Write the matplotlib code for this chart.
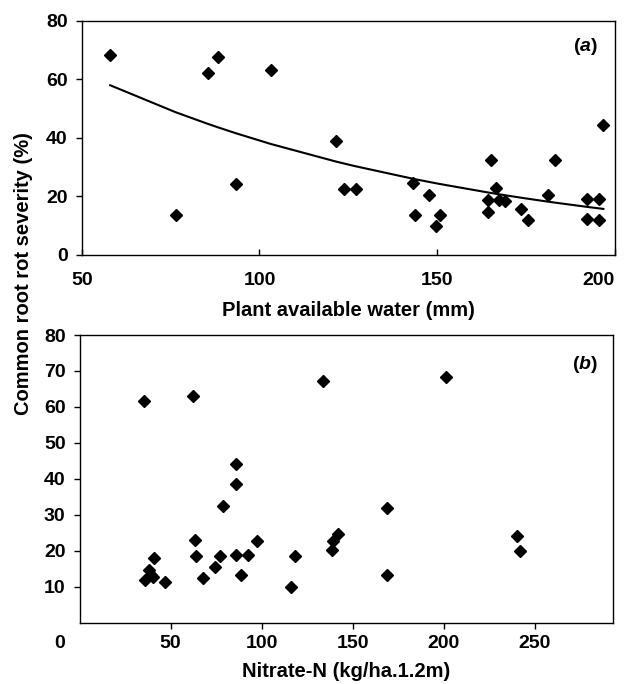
import numpy as np
import matplotlib.pyplot as plt

plt.rcParams['font.family'] = ['Liberation Sans', 'DejaVu Sans']
plt.rcParams['font.weight'] = 'bold'
plt.rcParams['mathtext.fontset'] = 'custom'
plt.rcParams['mathtext.bfit'] = 'Liberation Sans:bold:italic'

# (a) plant available water (mm) vs common root rot severity (%)
paw = [58, 76.4, 85.4, 88.4, 93.4, 103.1, 121.4, 123.9, 127.0, 143.3, 143.7,
       147.8, 150.8, 149.6, 165.1, 164.3, 164.3, 166.5, 167.4, 169.0, 173.5,
       175.6, 181.0, 183.1, 192.2, 195.5, 192.2, 195.5, 196.7]
crr_a = [68.2, 13.6, 62.1, 67.6, 24.1, 63.3, 38.9, 22.7, 22.7, 24.6, 13.6,
         20.4, 13.6, 9.9, 32.6, 18.7, 14.8, 22.9, 18.7, 18.4, 15.6,
         11.9, 20.4, 32.6, 19.0, 19.0, 12.3, 11.9, 44.3]

# exponential trend line y = a*exp(b*x), coefficients
trend_a = 100.0
trend_b = -0.0094

# (b) nitrate-N (kg/ha.1.2m) vs common root rot severity (%)
nitrate = [35.3, 62.3, 85.9, 85.9, 78.8, 63.2, 64.1, 41.1, 38.4, 39.5, 40.5,
           36.2, 47.2, 67.8, 74.2, 77.3, 85.9, 92.5, 88.6, 97.4, 118.4, 116.2,
           133.9, 201.2, 168.7, 142.2, 139.1, 138.5, 168.7, 240.0, 241.8]
crr_b = [61.7, 63.1, 44.1, 38.5, 32.5, 23.0, 18.5, 18.0, 14.7, 13.3, 12.8,
         11.9, 11.4, 12.4, 15.4, 18.5, 18.9, 18.9, 13.3, 22.6, 18.5, 9.8,
         67.2, 68.3, 32.0, 24.5, 22.6, 20.2, 13.3, 24.0, 20.0]

xs = np.sort(paw)
trend = trend_a * np.exp(trend_b * xs)

fig = plt.figure(figsize=(6.27, 6.84), dpi=100)
ax1 = fig.add_axes([0.1303, 0.6272, 0.8507, 0.3425])
ax2 = fig.add_axes([0.1268, 0.0899, 0.8509, 0.4203])

fs = 14
lfs = 14.5
for ax in (ax1, ax2):
    for s in ax.spines.values():
        s.set_linewidth(1.0)
    ax.tick_params(labelsize=fs, width=1.0, length=4)

ax1.plot(paw, crr_a, linestyle='none', marker='D', markersize=6.5, color='black')
ax1.plot(xs, trend, color='black', linewidth=1.5)
ax1.set_xlim(50, 200)
ax1.set_ylim(0, 80)
ax1.set_xticks([50, 100, 150, 200])
ax1.set_yticks([0, 20, 40, 60, 80])
ax1.tick_params(axis='x', direction='in', pad=12)
ax1.tick_params(axis='y', direction='out', pad=6)
ax1.set_xlabel('Plant available water (mm)', fontsize=lfs, fontweight='bold', labelpad=9)
ax1.get_xticklabels()[-1].set_ha('right')
ax1.text(0.968, 0.89, r'($\mathbfit{a}$)', transform=ax1.transAxes,
         ha='right', va='center', fontsize=fs, fontweight='bold')

ax2.plot(nitrate, crr_b, linestyle='none', marker='D', markersize=6.5, color='black')
ax2.set_xlim(0, 293)
ax2.set_ylim(0, 80)
ax2.set_xticks([50, 100, 150, 200, 250])
ax2.set_yticks([10, 20, 30, 40, 50, 60, 70, 80])
ax2.tick_params(axis='x', direction='out', pad=5)
ax2.tick_params(axis='y', direction='out', pad=6)
ax2.set_xlabel('Nitrate-N (kg/ha.1.2m)', fontsize=lfs, fontweight='bold', labelpad=7)
ax2.text(0.972, 0.896, r'($\mathbfit{b}$)', transform=ax2.transAxes,
         ha='right', va='center', fontsize=fs, fontweight='bold')
fig.text(60 / 627, 1 - 643 / 684, '0', ha='center', va='center',
         fontsize=fs, fontweight='bold')

fig.text(24 / 627, 1 - 274 / 684, 'Common root rot severity (%)', rotation=90,
         ha='center', va='center', fontsize=lfs, fontweight='bold')

fig.savefig('out.png', dpi=100)
